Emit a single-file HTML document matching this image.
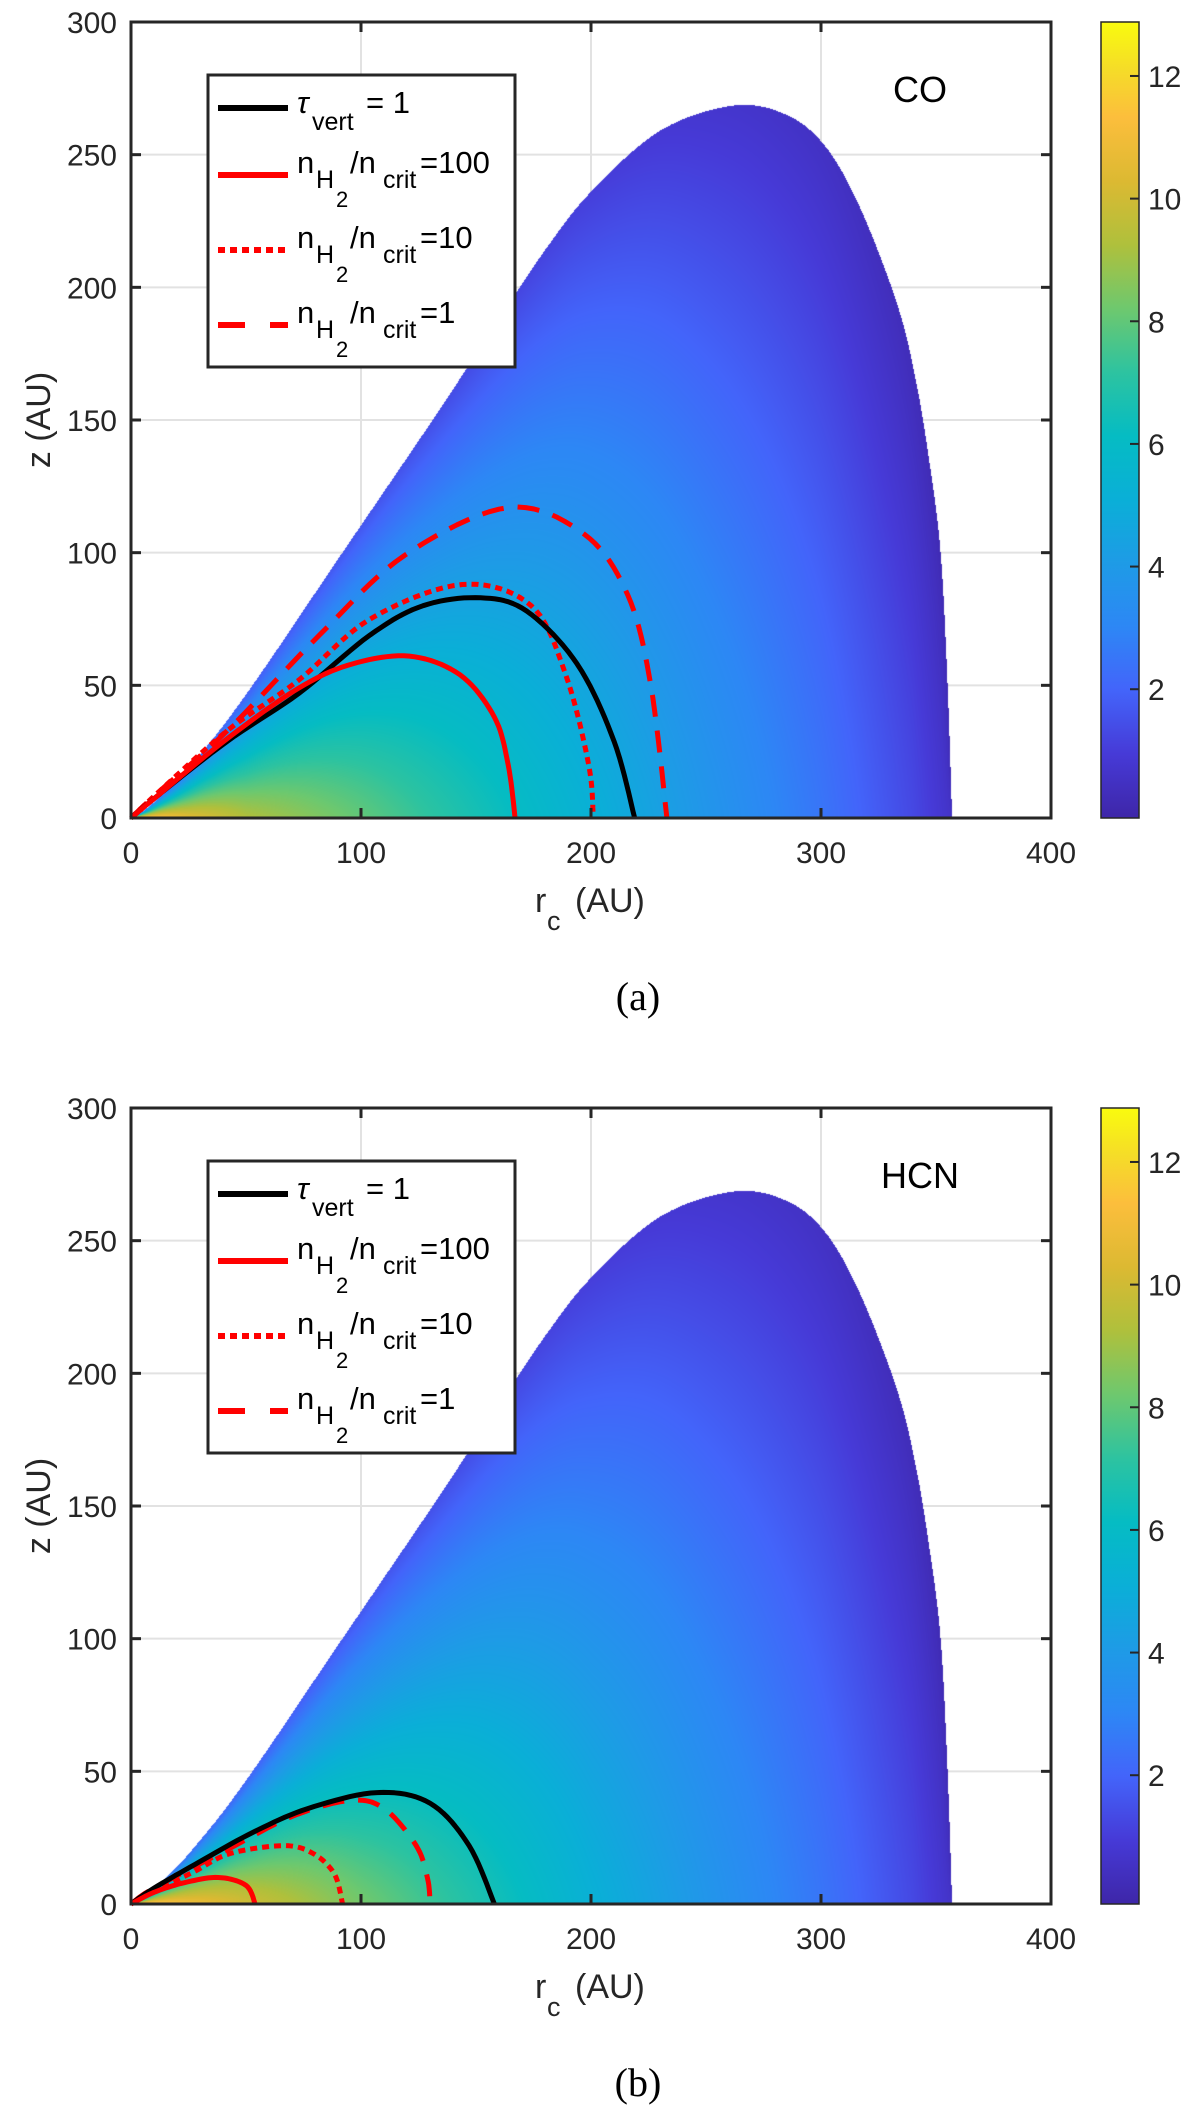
<!DOCTYPE html>
<html><head><meta charset="utf-8">
<style>
body{margin:0;background:#fff;width:1200px;height:2118px;position:relative;overflow:hidden;font-family:"Liberation Sans",Arial,sans-serif;}
svg,canvas{position:absolute;left:0;top:0;}
</style></head>
<body>
<svg id="bg" width="1200" height="2118"></svg>
<canvas id="hmA" width="920" height="796" style="left:131px;top:22px"></canvas>
<canvas id="hmB" width="920" height="796" style="left:131px;top:1108px"></canvas>
<svg id="fg" width="1200" height="2118"></svg>
<script>
// ---- data ----
const xTicks = [0,100,200,300,400];
const yTicks = [0,50,100,150,200,250,300];
const cbTicks = [2,4,6,8,10,12];
const cMin = -0.1, cMax = 12.88;
// disk outer surface (r, z)
const surfR = [0,5,10,20,30,42,60,88,110,135,160,180,200,230,262,285,302,317,333,341,347,352,355,357];
const surfZ = [0,2.5,6,14,24,37,59,95,123,155,188,214,236,259,268.5,265,253,230,194,166,135,100,51,0];
// midplane value profile
const midR = [0,25,50,100,150,200,250,300,340,357];
const midA = [12.3,10.5,9.3,8.0,6.6,5.2,3.8,2.5,1.3,0.6];
const midB = [12.3,11,10,8.3,6.8,5.2,3.8,2.5,1.3,0.6];
// contours panel a (CO)
const tauA_r = [0,11,42,73,104,127,152,172,194,210,219];
const tauA_z = [0,8,29,47,69,80,83,78,58,29,0];
const n100A_r = [0,11,42,73,96,121,143,158,164,167];
const n100A_z = [0,8,30,49,58,61,54,38,20,0];
const n10A_r = [0,11,42,73,104,144,174,189,199,201];
const n10A_z = [0,9,33,52,75,88,80,54,20,0];
const n1A_r = [0,11,42,82,119,164,197,216,226,233];
const n1A_z = [0,9,33,69,99,117,107,84,50,0];
// contours panel b (HCN)
const tauB_r = [0,10,30,53,77,107,130,147,158];
const tauB_z = [0,6,16,27,36,42,38,22,0];
const n1B_r = [0,10,43,70,95,110,124,129,130];
const n1B_z = [0,6,21,33,39,36,22,9.4,0];
const n10B_r = [0,10,27,43,67,80,88.6,92];
const n10B_z = [0,5,12,19,22,18.6,11,0];
const n100B_r = [0,10,23,38,50,54];
const n100B_z = [0,4.4,8,10,7,0];

const NS='http://www.w3.org/2000/svg';
function mk(parent,tag,attrs,text){const e=document.createElementNS(NS,tag);for(const k in attrs)e.setAttribute(k,attrs[k]);if(text!==undefined)e.textContent=text;parent.appendChild(e);return e;}
const X0=131,W=920,H=796,PXR=W/400,PXZ=H/300;
function smooth(xs,ys,n){const ox=[],oy=[];const L=xs.length;
  for(let i=0;i<L-1;i++){const i0=Math.max(0,i-1),i3=Math.min(L-1,i+2);
    for(let k=0;k<n;k++){const t=k/n,t2=t*t,t3=t2*t;
      const f=(p0,p1,p2,p3)=>0.5*((2*p1)+(-p0+p2)*t+(2*p0-5*p1+4*p2-p3)*t2+(-p0+3*p1-3*p2+p3)*t3);
      ox.push(f(xs[i0],xs[i],xs[i+1],xs[i3]));oy.push(f(ys[i0],ys[i],ys[i+1],ys[i3]));}}
  ox.push(xs[L-1]);oy.push(ys[L-1]);return [ox,oy];}
function interp(xs,ys,x){if(x<=xs[0])return ys[0];for(let i=1;i<xs.length;i++){if(x<=xs[i]){const d=xs[i]-xs[i-1];const t=d>0?(x-xs[i-1])/d:1;return ys[i-1]+t*(ys[i]-ys[i-1]);}}return ys[ys.length-1];}
const stops=[[0,62,38,168],[0.08,70,58,215],[0.16,67,100,250],[0.24,45,135,245],[0.32,30,155,230],[0.40,10,175,215],[0.48,5,188,195],[0.56,45,195,160],[0.64,110,200,110],[0.72,175,192,60],[0.80,220,185,50],[0.88,252,190,60],[0.94,245,220,40],[1,249,251,14]];
function cmap(t){t=Math.max(0,Math.min(1,t));for(let i=1;i<stops.length;i++){if(t<=stops[i][0]){const a=stops[i-1],b=stops[i],f=(t-a[0])/(b[0]-a[0]);return [a[1]+f*(b[1]-a[1]),a[2]+f*(b[2]-a[2]),a[3]+f*(b[3]-a[3])];}}return [249,251,14];}
const [sR,sZ]=smooth(surfR,surfZ,12);
for(let i=1;i<sR.length;i++) if(sR[i]<sR[i-1]) sR[i]=sR[i-1];
const rMax=surfR[surfR.length-1];
function drawHeat(id,mid){
  const c=document.getElementById(id),ctx=c.getContext('2d'),img=ctx.createImageData(W,H),d=img.data;
  for(let px=0;px<W;px++){
    const r=(px+0.5)/PXR; if(r>rMax)continue;
    const zs=interp(sR,sZ,r), m=interp(midR,mid,r);
    for(let py=0;py<H;py++){
      const z=(H-py-0.5)/PXZ; if(z>zs)continue;
      const t=zs>0?z/zs:0;
      const v=m*(1-0.8*Math.pow(t,1.2));
      const col=cmap((v-cMin)/(cMax-cMin));const k=(py*W+px)*4;
      d[k]=col[0];d[k+1]=col[1];d[k+2]=col[2];d[k+3]=255;
    }
  }
  ctx.putImageData(img,0,0);
}
drawHeat('hmA',midA);drawHeat('hmB',midB);

const bg=document.getElementById('bg'),fg=document.getElementById('fg');
function panel(Y0,label,curves,letter){
  const sx=r=>X0+r*PXR, sy=z=>Y0+H-z*PXZ;
  const grid=mk(bg,'g',{});
  
  xTicks.slice(1,-1).forEach(t=>mk(grid,'line',{x1:sx(t),x2:sx(t),y1:Y0,y2:Y0+H,stroke:'#e2e2e2','stroke-width':2}));
  yTicks.slice(1,-1).forEach(t=>mk(grid,'line',{x1:X0,x2:X0+W,y1:sy(t),y2:sy(t),stroke:'#e2e2e2','stroke-width':2}));
  const g=mk(fg,'g',{});
  
  curves.forEach(cv=>{
    const [cr,cz]=smooth(cv.r,cv.z,10);
    const p=mk(g,'polyline',{points:cr.map((r,i)=>sx(r).toFixed(1)+','+sy(Math.max(0,cz[i])).toFixed(1)).join(' '),fill:'none',stroke:cv.col,'stroke-width':5,'stroke-dasharray':cv.dash,'stroke-linejoin':'round'});
    
    
  });
  const ax=mk(g,'g',{stroke:'#262626','stroke-width':3,fill:'none'});
  
  mk(ax,'rect',{x:X0,y:Y0,width:W,height:H});
  xTicks.forEach(t=>{mk(ax,'line',{x1:sx(t),x2:sx(t),y1:Y0+H,y2:Y0+H-10});mk(ax,'line',{x1:sx(t),x2:sx(t),y1:Y0,y2:Y0+10});});
  yTicks.forEach(t=>{mk(ax,'line',{x1:X0,x2:X0+10,y1:sy(t),y2:sy(t)});mk(ax,'line',{x1:X0+W,x2:X0+W-10,y1:sy(t),y2:sy(t)});});
  xTicks.forEach(t=>{const e=mk(g,'text',{x:sx(t),y:Y0+H+45,'font-size':30,'text-anchor':'middle',fill:'#262626'},t);});
  yTicks.forEach(t=>{const e=mk(g,'text',{x:117,y:sy(t)+11,'font-size':30,'text-anchor':'end',fill:'#262626'},t);});
  const xl=mk(g,'text',{x:535,y:Y0+H+94,'font-size':34,fill:'#262626'});
  
  mk(xl,'tspan',{},'r');mk(xl,'tspan',{x:547,y:Y0+H+112,'font-size':27},'c');mk(xl,'tspan',{x:575,y:Y0+H+94},'(AU)');
  const yl=mk(g,'text',{x:0,y:0,'font-size':34,'text-anchor':'middle',fill:'#262626',transform:`translate(50,${Y0+H/2}) rotate(-90)`},'z (AU)');
  
  const mt=mk(g,'text',{x:920,y:Y0+80,'font-size':36,'text-anchor':'middle',fill:'#000'},label);
  
  const lt=mk(g,'text',{x:638,y:Y0+H+192,'font-size':40,'text-anchor':'middle','font-family':'"Liberation Serif",serif',fill:'#000'},letter);
  
  const L=mk(g,'g',{});
  
  const ly=Y0-22;
  mk(L,'rect',{x:208,y:ly+75,width:307,height:292,fill:'#fff',stroke:'#262626','stroke-width':3});
  const rows=[{y:108,col:'#000',dash:'none'},{y:175,col:'#ff0000',dash:'none'},{y:250,col:'#ff0000',dash:'7 5'},{y:325,col:'#ff0000',dash:'27 25'}];
  rows.forEach(rw=>{
    const e=mk(L,'line',{x1:218,x2:288,y1:ly+rw.y,y2:ly+rw.y,stroke:rw.col,'stroke-width':6,'stroke-dasharray':rw.dash});
    
  });
  const t1=mk(L,'text',{'font-size':31,fill:'#000'});
  
  mk(t1,'tspan',{x:297,y:ly+113,'font-style':'italic'},'τ');mk(t1,'tspan',{x:312,y:ly+130,'font-size':25},'vert');mk(t1,'tspan',{x:366,y:ly+113},'= 1');
  ['=100','=10','=1'].forEach((v,i)=>{
    const b=ly+[173,248,323][i];
    const t=mk(L,'text',{'font-size':31,fill:'#000'});
    
    mk(t,'tspan',{x:297,y:b},'n');mk(t,'tspan',{x:316,y:b+15,'font-size':25},'H');mk(t,'tspan',{x:336,y:b+34,'font-size':22},'2');
    mk(t,'tspan',{x:350,y:b},'/n');mk(t,'tspan',{x:383,y:b+15,'font-size':25},'crit');mk(t,'tspan',{x:420,y:b},v);
  });
  const cb=mk(g,'g',{});
  
  const gid='cbg'+label;
  const defs=mk(cb,'defs',{});const lg=mk(defs,'linearGradient',{id:gid,x1:0,y1:1,x2:0,y2:0});
  stops.forEach(s=>mk(lg,'stop',{offset:s[0],'stop-color':`rgb(${s[1]},${s[2]},${s[3]})`}));
  mk(cb,'rect',{x:1101,y:Y0,width:38,height:H,fill:`url(#${gid})`,stroke:'#262626','stroke-width':1.5});
  const cy=v=>Y0+H-(v-cMin)/(cMax-cMin)*H;
  cbTicks.forEach(v=>{mk(cb,'line',{x1:1130,x2:1139,y1:cy(v),y2:cy(v),stroke:'#262626','stroke-width':2});
    const e=mk(cb,'text',{x:1148,y:cy(v)+11,'font-size':30,fill:'#262626'},v);});
}
panel(22,'CO',[
 {r:n1A_r,z:n1A_z,col:'#ff0000',dash:'22 14',name:'contour-ratio-1'},
 {r:n10A_r,z:n10A_z,col:'#ff0000',dash:'7 5',name:'contour-ratio-10'},
 {r:tauA_r,z:tauA_z,col:'#000',dash:'none',name:'contour-tau-1'},
 {r:n100A_r,z:n100A_z,col:'#ff0000',dash:'none',name:'contour-ratio-100'}],'(a)');
panel(1108,'HCN',[
 {r:n1B_r,z:n1B_z,col:'#ff0000',dash:'22 14',name:'contour-ratio-1'},
 {r:n10B_r,z:n10B_z,col:'#ff0000',dash:'7 5',name:'contour-ratio-10'},
 {r:tauB_r,z:tauB_z,col:'#000',dash:'none',name:'contour-tau-1'},
 {r:n100B_r,z:n100B_z,col:'#ff0000',dash:'none',name:'contour-ratio-100'}],'(b)');
</script>
</body></html>
